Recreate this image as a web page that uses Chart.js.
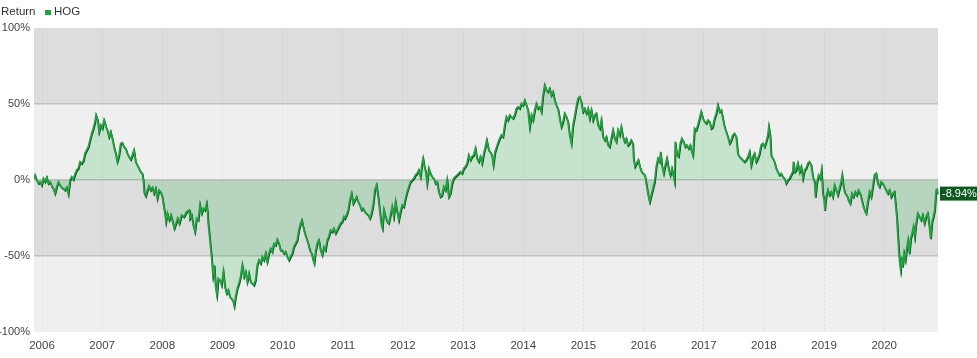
<!DOCTYPE html>
<html><head><meta charset="utf-8">
<script src="https://cdn.jsdelivr.net/npm/chart.js@4/dist/chart.umd.min.js"></script>
<style>html,body{margin:0;padding:0;background:#fff;}#wrap{width:977px;height:358px;}</style>
</head><body><div id="wrap"><canvas id="c" width="977" height="358"></canvas></div>
<script>
const seriesName = "HOG";
const legendTitle = "Return";
const tickYears = [2006,2007,2008,2009,2010,2011,2012,2013,2014,2015,2016,2017,2018,2019,2020];
const yTicks = [-100,-50,0,50,100];
const dates = [
2005.867,2005.884,2005.911,2005.939,2005.967,2005.994,2006.022,2006.050,2006.078,2006.105,2006.133,2006.161,2006.188,2006.216,2006.244,2006.271,2006.299,2006.327,2006.354,2006.382,2006.410,2006.437,2006.465,2006.493,2006.520,2006.548,2006.576,2006.604,2006.631,2006.659,2006.687,2006.714,2006.742,2006.770,2006.797,2006.825,2006.853,2006.880,2006.897,2006.925,2006.947,2006.975,2007.002,2007.030,2007.063,2007.085,2007.113,2007.141,2007.168,2007.196,2007.224,2007.251,2007.279,2007.307,2007.334,2007.362,2007.390,2007.418,2007.445,2007.473,2007.501,2007.528,2007.556,2007.584,2007.611,2007.639,2007.667,2007.683,2007.700,2007.722,2007.750,2007.777,2007.805,2007.833,2007.860,2007.888,2007.916,2007.944,2007.971,2007.999,2008.016,2008.043,2008.060,2008.082,2008.115,2008.143,2008.171,2008.198,2008.226,2008.254,2008.281,2008.320,2008.359,2008.403,2008.447,
2008.458,2008.486,2008.514,2008.541,2008.569,2008.597,2008.624,2008.652,2008.680,2008.708,2008.735,2008.752,2008.763,2008.780,2008.796,2008.818,2008.841,2008.863,2008.885,2008.907,2008.929,2008.957,2008.985,2009.013,2009.040,2009.068,2009.096,2009.123,2009.151,2009.179,2009.195,2009.217,2009.245,2009.273,2009.300,2009.328,2009.356,2009.384,2009.411,2009.439,2009.466,2009.494,2009.522,2009.550,2009.577,2009.605,2009.633,2009.660,2009.688,2009.716,2009.743,2009.771,2009.799,2009.826,2009.854,2009.882,2009.909,2009.937,2009.965,2009.992,2010.020,2010.048,2010.076,2010.103,2010.131,2010.159,2010.186,2010.214,2010.242,2010.269,2010.297,2010.319,2010.341,2010.369,2010.397,2010.424,2010.452,2010.480,2010.507,2010.524,2010.546,2010.574,2010.601,2010.629,2010.657,2010.684,2010.712,2010.740,2010.767,2010.795,2010.823,2010.850,2010.878,2010.906,2010.933,2010.961,2010.989,2011.017,
2011.033,2011.061,2011.089,2011.116,2011.144,2011.172,2011.199,2011.227,2011.255,2011.282,2011.310,2011.338,2011.365,2011.393,2011.421,2011.449,2011.476,2011.504,2011.532,2011.559,2011.587,2011.615,2011.642,2011.659,2011.681,2011.709,2011.736,2011.764,2011.792,2011.819,2011.847,2011.875,2011.902,2011.930,2011.958,2011.986,2012.013,2012.041,2012.069,2012.096,2012.124,2012.152,2012.179,2012.207,2012.235,2012.262,2012.290,2012.318,2012.334,2012.357,2012.379,2012.401,2012.428,2012.456,2012.484,2012.511,2012.539,2012.567,2012.594,2012.622,2012.650,2012.677,2012.705,2012.733,2012.760,2012.788,2012.816,2012.843,2012.871,2012.899,2012.926,2012.954,2012.982,2013.010,2013.037,2013.065,2013.093,2013.120,2013.148,2013.176,2013.203,2013.231,2013.259,2013.286,2013.314,2013.342,2013.369,2013.392,2013.425,2013.452,2013.480,2013.502,2013.530,2013.558,2013.585,
2013.608,2013.635,2013.663,2013.691,2013.718,2013.746,2013.774,2013.801,2013.829,2013.857,2013.884,2013.912,2013.940,2013.968,2013.995,2014.023,2014.051,2014.078,2014.106,2014.134,2014.161,2014.189,2014.217,2014.244,2014.272,2014.300,2014.327,2014.355,2014.383,2014.410,2014.438,2014.466,2014.493,2014.521,2014.549,2014.576,2014.604,2014.632,2014.660,2014.687,2014.715,2014.743,2014.770,2014.798,2014.826,2014.853,2014.881,2014.909,2014.936,2014.964,2014.992,2015.019,2015.047,2015.075,2015.102,2015.130,2015.158,2015.185,2015.213,2015.241,2015.269,2015.296,2015.324,2015.352,2015.379,2015.407,2015.435,2015.462,2015.490,2015.518,2015.545,2015.573,2015.601,2015.628,2015.656,2015.684,2015.711,2015.739,2015.767,2015.794,2015.822,2015.833,2015.855,2015.883,2015.911,2015.938,2015.966,2015.993,2016.021,2016.049,2016.076,
2016.100,2016.127,2016.155,2016.183,2016.210,2016.238,2016.266,2016.282,2016.304,2016.332,2016.360,2016.387,2016.415,2016.443,2016.470,2016.498,2016.515,2016.526,2016.553,2016.581,2016.609,2016.636,2016.664,2016.692,2016.719,2016.747,2016.775,2016.802,2016.819,2016.847,2016.874,2016.902,2016.930,2016.957,2016.985,2017.013,2017.041,2017.068,2017.096,2017.124,2017.151,2017.179,2017.207,2017.234,2017.262,2017.290,2017.317,2017.345,2017.373,2017.400,2017.428,2017.456,2017.483,2017.511,2017.539,2017.566,2017.594,2017.622,2017.649,2017.677,2017.705,2017.733,2017.760,2017.788,2017.816,2017.843,2017.871,2017.899,2017.926,2017.954,2017.982,2018.009,2018.037,2018.065,2018.081,2018.103,2018.120,2018.148,2018.175,2018.203,2018.231,2018.258,2018.286,2018.314,2018.342,2018.369,2018.397,2018.425,2018.452,2018.480,2018.491,2018.513,2018.535,2018.563,
2018.591,2018.619,2018.647,2018.675,2018.702,2018.730,2018.758,2018.785,2018.813,2018.841,2018.857,2018.879,2018.907,2018.935,2018.957,2018.979,2019.001,2019.012,2019.034,2019.062,2019.090,2019.117,2019.145,2019.173,2019.200,2019.228,2019.256,2019.283,2019.300,2019.322,2019.350,2019.378,2019.405,2019.433,2019.461,2019.488,2019.516,2019.544,2019.571,2019.599,2019.627,2019.654,2019.682,2019.699,2019.726,2019.754,2019.782,2019.809,2019.837,2019.865,2019.892,2019.920,2019.948,2019.975,2020.003,2020.031,2020.058,2020.086,2020.114,2020.141,2020.169,2020.186,2020.208,2020.224,2020.241,2020.258,2020.274,2020.291,2020.307,2020.329,2020.352,2020.374,2020.396,2020.418,2020.440,2020.462,2020.484,2020.507,2020.529,2020.556,2020.584,2020.612,2020.639,2020.667,2020.695,2020.722,2020.750,2020.772,2020.794,2020.817,2020.839,2020.861,2020.877,2020.894
];
const returns = [
1.1,3.3,0,-2.2,-1.1,-3.3,1.1,-1.1,1.8,-2.2,-1.1,-3.9,-5.5,-8.8,-4.4,-1.1,-3.3,-4.8,-5.5,-6.6,-4.8,-9.2,0,2.2,0.4,3.9,6.6,7.7,12.1,11.0,12.7,17.5,19.7,21.9,26.3,30.7,34.0,38.4,42.8,39.5,31.8,36.2,34.0,39.5,35.1,32.9,28.5,31.8,27.4,21.9,17.5,12.1,16.4,24.1,24.6,21.9,20.8,17.5,15.4,13.6,16.4,19.7,12.1,9.9,7.7,5.5,4.4,0,-8.8,-10.5,-7.0,-3.9,-6.6,-4.8,-8.8,-5.5,-12.1,-6.6,-7.7,-11.0,-15.4,-21.9,-27.4,-21.9,-26.3,-23.0,-27.4,-31.8,-28.5,-25.2,-28.5,-23.0,-24.1,-20.8,-19.7,
-25.2,-23.0,-29.6,-34.0,-25.2,-26.3,-16.4,-21.9,-18.6,-19.7,-15.4,-21.9,-28.5,-35.1,-41.7,-50.4,-62.5,-55.9,-70.2,-75.7,-64.7,-65.8,-69.1,-60.3,-70.2,-74.6,-72.4,-76.8,-77.9,-80.0,-82.9,-76.8,-71.3,-68.0,-63.6,-55.9,-63.6,-60.3,-66.9,-61.4,-66.9,-68.0,-69.1,-65.8,-55.9,-52.6,-54.8,-50.4,-52.6,-48.2,-53.7,-48.2,-45.0,-47.1,-41.7,-42.8,-39.0,-41.7,-46.1,-46.1,-48.2,-47.1,-50.4,-52.6,-50.4,-48.2,-43.9,-41.7,-39.5,-32.9,-28.5,-26.3,-30.7,-35.1,-38.4,-41.7,-46.1,-48.2,-52.6,-54.8,-47.1,-41.7,-39.5,-46.1,-49.3,-43.9,-46.1,-39.5,-37.3,-32.9,-34.0,-31.8,-35.1,-32.9,-30.7,-28.5,-27.4,-24.1,
-25.2,-23.0,-19.7,-13.2,-8.8,-15.4,-13.2,-11.0,-14.3,-16.4,-19.7,-18.6,-20.8,-21.9,-23.0,-25.2,-21.9,-16.4,-6.6,-3.3,-11.0,-20.8,-29.6,-31.8,-19.7,-24.1,-27.4,-28.5,-23.0,-17.5,-24.1,-14.3,-20.8,-26.3,-20.8,-16.4,-17.5,-12.1,-7.7,-4.4,-1.1,0,1.1,3.3,4.4,6.6,2.2,11.0,14.3,8.8,5.5,-2.2,7.7,4.4,2.2,1.1,-2.2,-1.1,-7.7,-11.0,-9.9,-4.4,-6.6,0,-11.0,-8.8,-2.2,1.1,2.2,3.3,4.4,5.5,4.4,7.7,8.8,11.0,16.4,13.2,15.4,16.4,20.8,14.3,12.1,15.4,11.0,17.5,21.9,26.3,19.7,18.6,16.4,9.9,18.6,21.9,25.2,
27.4,29.6,28.5,36.2,41.7,39.5,42.8,41.7,40.6,42.8,47.1,48.2,47.1,50.4,49.3,52.6,49.3,46.1,35.1,42.8,39.5,46.1,50.4,47.1,48.2,45.0,55.9,62.5,59.2,58.1,60.3,55.9,58.1,52.6,49.3,47.1,40.6,35.1,38.4,43.9,41.7,38.4,29.6,24.1,36.2,41.7,48.2,53.7,54.8,51.5,45.0,47.1,43.9,47.1,40.6,46.1,39.5,42.8,43.9,36.2,34.0,39.5,28.5,26.3,28.5,23.0,21.9,27.4,32.9,27.4,25.2,32.9,29.6,35.1,28.5,25.2,27.4,23.0,24.1,26.3,24.1,14.3,8.8,11.0,13.2,8.8,5.5,4.4,3.3,-3.3,-9.9,
-14.3,-9.9,-5.5,-1.1,8.8,14.3,12.1,18.6,9.9,4.4,9.9,14.3,7.7,3.3,7.7,2.2,-1.1,25.2,16.4,15.4,24.1,27.4,25.2,21.9,23.0,20.8,23.0,18.6,16.4,34.0,32.9,36.2,40.6,45.0,40.6,38.4,37.3,39.5,38.4,34.0,35.1,40.6,43.9,49.3,45.0,46.1,40.6,35.1,31.8,28.5,24.1,26.3,29.6,30.7,28.5,17.5,15.4,14.3,13.2,12.1,13.2,15.4,18.6,9.9,15.4,17.5,12.1,14.3,17.5,23.0,24.1,21.9,25.2,29.6,35.1,29.6,16.4,14.3,12.1,7.7,5.5,3.3,4.4,2.2,1.1,-2.2,0,1.1,3.3,5.5,12.1,5.5,6.6,11.0,
5.5,8.8,1.1,6.6,7.7,11.0,12.1,9.9,2.2,-1.1,-11.0,-2.2,3.3,1.1,6.6,-8.8,-13.2,-19.7,-11.0,-6.6,-9.9,-7.7,-11.0,-3.3,-6.6,-9.9,-5.5,-1.1,3.3,-4.4,-8.8,-9.9,-13.2,-15.4,-8.8,-11.0,-7.7,-9.9,-6.6,-8.8,-13.2,-17.5,-20.8,-21.9,-14.3,-7.7,-11.0,-4.4,3.3,4.4,-2.2,-4.4,-1.1,-2.2,-4.4,-6.6,-8.8,-6.6,-11.0,-8.8,-7.7,-15.4,-24.1,-35.1,-46.1,-54.8,-59.2,-50.4,-57.0,-48.2,-52.6,-45.0,-39.5,-48.2,-38.4,-35.1,-30.7,-37.3,-28.5,-21.9,-24.1,-26.3,-23.0,-28.5,-24.1,-21.9,-30.7,-38.4,-27.4,-24.1,-19.7,-6.6,-5.5,-8.94
];

const n = Math.min(dates.length, returns.length);
const points = [];
for (let i = 0; i < n; i++) points.push({x: dates[i], y: returns[i]});

const FONT = 'Liberation Sans, Arial, sans-serif';
const GREEN = '#1ea53e';

const bandsPlugin = {
  id: 'bands',
  beforeDraw(chart) {
    const {ctx, chartArea: a, scales: {y}} = chart;
    const bands = [[100,50,'#dddddd'],[50,0,'#efefef'],[0,-50,'#dddddd'],[-50,-100,'#efefef']];
    ctx.save();
    bands.forEach(([hi, lo, col]) => {
      const t = y.getPixelForValue(hi), b = y.getPixelForValue(lo);
      ctx.fillStyle = col;
      ctx.fillRect(a.left, t, a.right - a.left, b - t);
    });
    ctx.restore();
  }
};

// shift the dark edge line slightly so it reads as a shadow under the green line
const shadowPlugin = {
  id: 'shadow',
  beforeDatasetDraw(chart, args) {
    if (args.index === 1) { chart.ctx.save(); chart.ctx.translate(0.5, 0.9); }
  },
  afterDatasetDraw(chart, args) {
    if (args.index === 1) chart.ctx.restore();
  }
};

const overlayPlugin = {
  id: 'overlay',
  afterDraw(chart) {
    const {ctx, scales: {x, y}} = chart;
    ctx.save();
    ctx.font = '11.5px ' + FONT;
    ctx.textBaseline = 'middle';
    ctx.fillStyle = '#333333';
    ctx.textAlign = 'left';
    ctx.fillText(legendTitle, 1, 12);
    ctx.fillStyle = GREEN;
    ctx.fillRect(45, 10, 6, 5);
    ctx.fillStyle = '#333333';
    ctx.fillText(seriesName, 54, 12);
    const last = points[points.length - 1];
    const py = y.getPixelForValue(last.y);
    const px = x.getPixelForValue(last.x);
    ctx.fillStyle = '#0c5a1e';
    ctx.fillRect(px + 2, py - 7, 977 - px, 14);
    ctx.fillStyle = '#ffffff';
    ctx.font = '11px ' + FONT;
    ctx.fillText(last.y.toFixed(2) + '%', px + 4, py + 0.5);
    ctx.restore();
  }
};

new Chart(document.getElementById('c'), {
  type: 'line',
  data: {
    datasets: [
      {
        data: points, parsing: false,
        borderWidth: 0, borderColor: 'rgba(0,0,0,0)',
        backgroundColor: 'rgba(0,175,40,0.17)',
        fill: 'origin', pointRadius: 0, tension: 0, order: 3
      },
      {
        data: points, parsing: false,
        borderColor: '#1b2e1f', borderWidth: 1.6,
        fill: false, pointRadius: 0, tension: 0, order: 2
      },
      {
        data: points, parsing: false,
        borderColor: GREEN, borderWidth: 1.7,
        fill: false, pointRadius: 0, tension: 0, order: 1
      }
    ]
  },
  options: {
    responsive: false, animation: false,
    layout: {padding: {top: 28, right: 39, left: 0, bottom: 0}},
    plugins: {legend: {display: false}, tooltip: {enabled: false}},
    scales: {
      x: {
        type: 'linear', min: dates[0], max: dates[n - 1],
        afterBuildTicks: s => { s.ticks = tickYears.map(v => ({value: v})); },
        afterFit: s => { s.height = 26; },
        ticks: {
          callback: v => String(v), color: '#444444', padding: 7,
          font: {family: FONT, size: 11.5}, maxRotation: 0, autoSkip: false
        },
        grid: {color: 'rgba(0,0,0,0.06)', lineWidth: 1, drawTicks: false},
        border: {display: false, dash: [2, 2]}
      },
      y: {
        min: -100, max: 100,
        afterBuildTicks: s => { s.ticks = yTicks.map(v => ({value: v})); },
        afterFit: s => { s.width = 34; },
        ticks: {
          callback: v => v + '%', color: '#444444', padding: 4,
          font: {family: FONT, size: 11}
        },
        grid: {
          color: c => (c.tick && [ -50, 0, 50 ].includes(c.tick.value)) ? '#c2c2c2' : 'rgba(0,0,0,0)',
          lineWidth: 1.5, drawTicks: false
        },
        border: {display: false}
      }
    }
  },
  plugins: [bandsPlugin, shadowPlugin, overlayPlugin]
});
</script>
</body></html>
